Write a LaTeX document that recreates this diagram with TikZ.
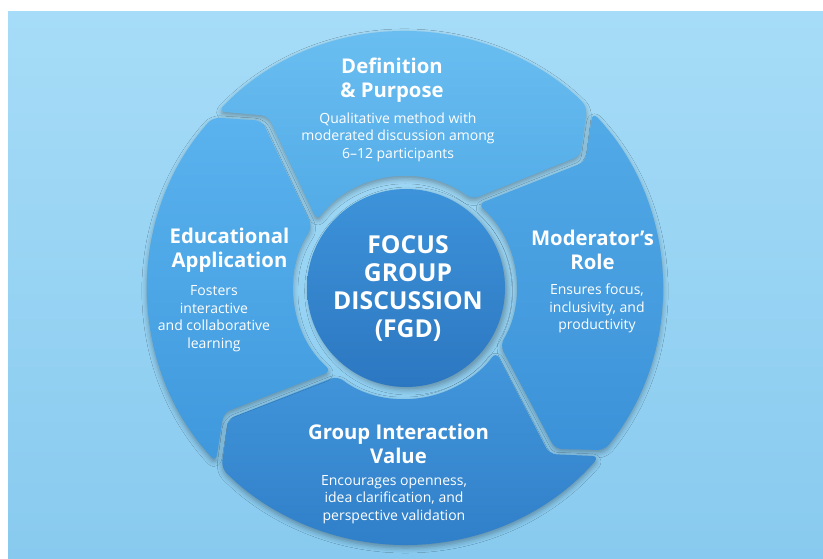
\documentclass[tikz,border=0pt]{standalone}
\usepackage{fontspec}
\setmainfont{Open Sans}
\usetikzlibrary{shadows.blur}

\definecolor{bgtop}{HTML}{A6DCF7}
\definecolor{bgbot}{HTML}{88CAEF}
\definecolor{defTop}{HTML}{6BBFF1}
\definecolor{defBot}{HTML}{52ABE7}
\definecolor{modTop}{HTML}{52AAE7}
\definecolor{modBot}{HTML}{3C92D8}
\definecolor{grpTop}{HTML}{4397DB}
\definecolor{grpBot}{HTML}{2F7EC8}
\definecolor{eduTop}{HTML}{5AB3EE}
\definecolor{eduBot}{HTML}{3F98DC}
\definecolor{hubTop}{HTML}{3D93D9}
\definecolor{hubBot}{HTML}{2C77C1}

\tikzset{
  segshape/.style={rounded corners=7pt,
    blur shadow={shadow xshift=0pt, shadow yshift=-3pt,
                 shadow blur radius=5pt, shadow opacity=32}},
  titletext/.style={text=white, align=center,
    font=\fontsize{20.3}{24}\selectfont\bfseries},
  bodytext/.style={text=white, align=center,
    font=\fontsize{14}{17.5}\selectfont},
  hubtext/.style={text=white, align=center,
    font=\fontsize{24.7}{28}\selectfont\bfseries}
}

% ring segment between junction angles #1 (counter-clockwise end) and #2
\newcommand\ringseg[3]{%
  \path[segshape, top color=#3Top, bottom color=#3Bot]
    (#1-0.9:257) arc[start angle=#1-0.9, end angle=#2+0.9, radius=257]
    -- (#2-7:220) -- (#2+9:111)
    arc[start angle=#2+9, end angle=#1+5, radius=111]
    -- (#1-9:220) -- cycle;}

\begin{document}
\begin{tikzpicture}[x=1pt,y=1pt]
  \useasboundingbox (0,0) rectangle (823,558);
  \fill[white] (0,0) rectangle (823,558);
  \shade[top color=bgtop, bottom color=bgbot] (8,0) rectangle (823,546);

  \begin{scope}[shift={(405,270)}]
    % four interlocking ring segments, clockwise
    \ringseg{137.5}{44}{def}
    \ringseg{44}{-40}{mod}
    \ringseg{-40}{-136.5}{grp}
    \ringseg{223.5}{137.5}{edu}

    % central hub
    \path[blur shadow={shadow yshift=-3pt, shadow blur radius=5pt, shadow opacity=30},
          top color=hubTop, bottom color=hubBot] (1,0) circle[radius=99];
    \node[hubtext] (hub) at (3,0) {FOCUS\\GROUP\\DISCUSSION\\(FGD)};

    % segment labels
    \node[titletext] (defT) at (-13,208) {Definition\\\& Purpose};
    \node[bodytext]  (defB) at (-7,151) {Qualitative method with\\moderated discussion among\\6–12 participants};

    \node[titletext] (modT) at (187.5,38) {Moderator’s\\Role};
    \node[bodytext]  (modB) at (192,-20.5) {Ensures focus,\\inclusivity, and\\productivity};

    \node[titletext] (grpT) at (-6.5,-155.5) {Group Interaction\\Value};
    \node[bodytext]  (grpB) at (-11,-211.5) {Encourages openness,\\idea clarification, and\\perspective validation};

    \node[titletext] (eduT) at (-175.5,38) {Educational\\Application};
    \node[bodytext]  (eduB) at (-191,-30.5) {Fosters\\interactive\\and collaborative\\learning};
  \end{scope}
\end{tikzpicture}
\end{document}
